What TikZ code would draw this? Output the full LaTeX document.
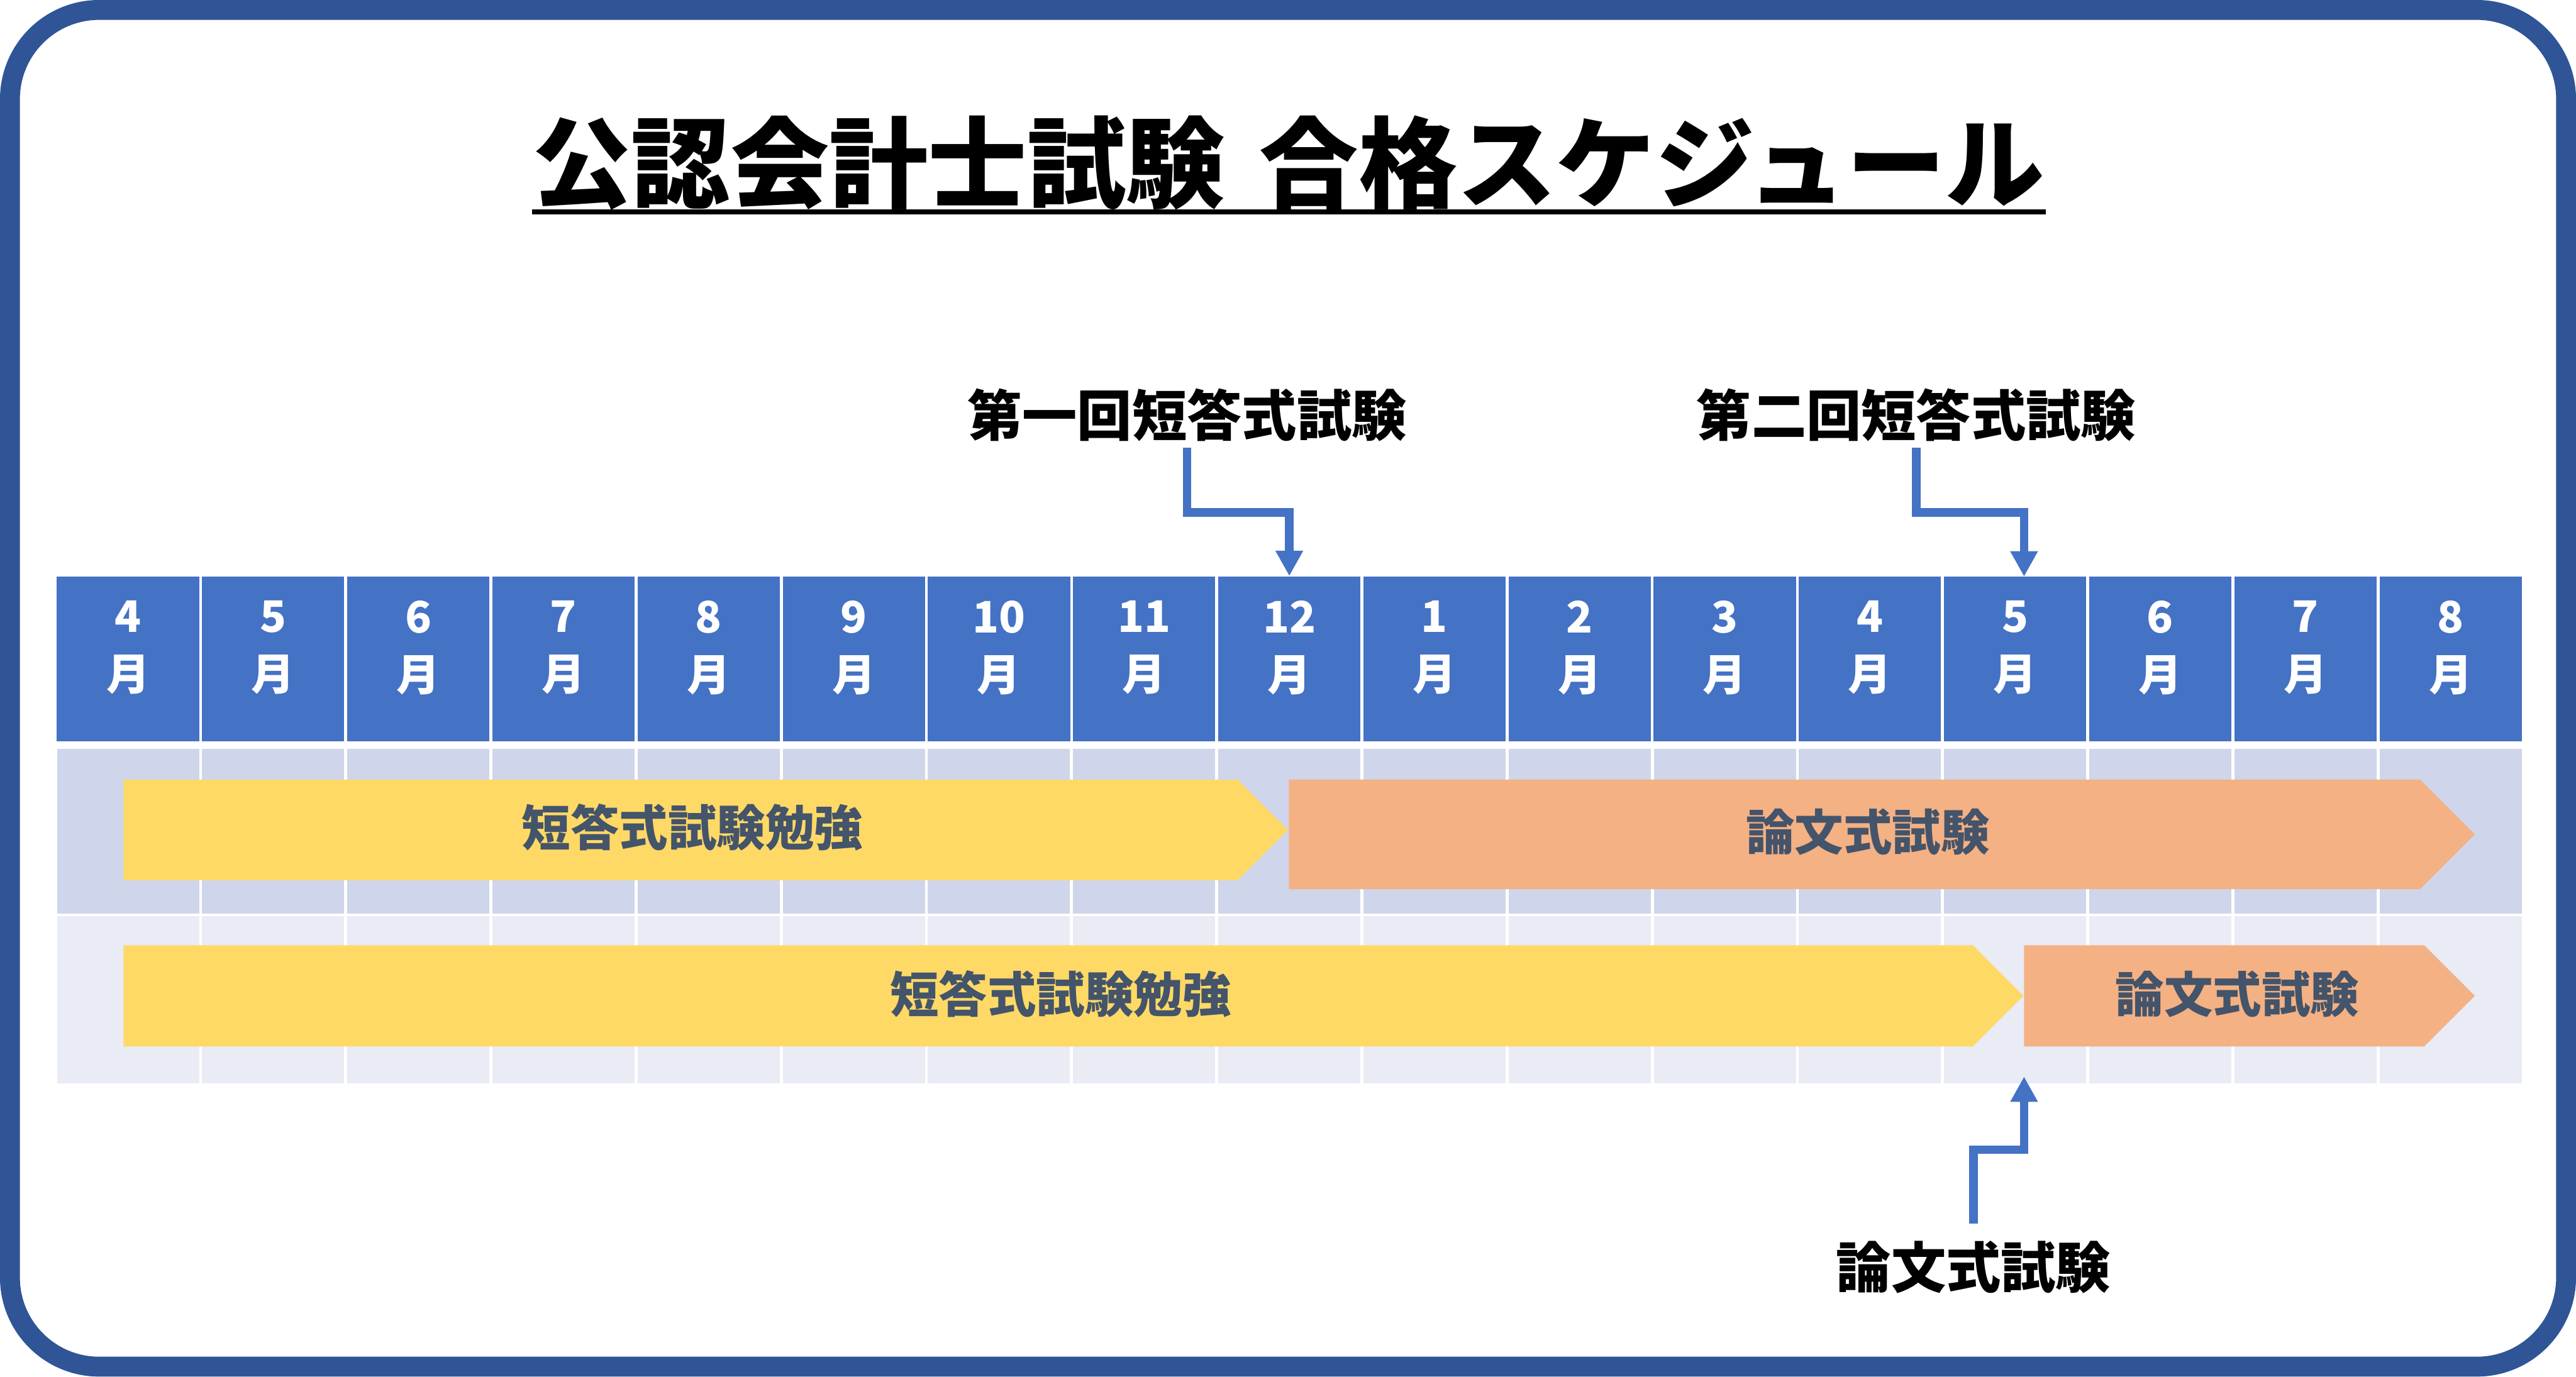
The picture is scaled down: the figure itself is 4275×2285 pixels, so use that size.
\documentclass[tikz,border=0pt]{standalone}
\usepackage{fontspec}
\setmainfont{Noto Sans CJK JP}
\usetikzlibrary{arrows.meta}
\definecolor{frame}{HTML}{2F5597}
\definecolor{hdr}{HTML}{4472C4}
\definecolor{rowA}{HTML}{CFD5EA}
\definecolor{rowB}{HTML}{E9EBF5}
\definecolor{gold}{HTML}{FFD966}
\definecolor{peach}{HTML}{F4B183}
\definecolor{slate}{HTML}{44546A}
\tikzset{
  hcell/.style={fill=hdr, inner sep=0pt, minimum width=2.359cm, minimum height=2.73cm},
  htext/.style={text=white, font=\bfseries\fontsize{20.5pt}{27.3pt}\selectfont, align=center, inner sep=0pt},
  bartext/.style={text=slate, font=\bfseries\fontsize{23pt}{28pt}\selectfont, inner sep=0pt},
  label/.style={text=black, font=\bfseries\fontsize{25.9pt}{30pt}\selectfont, inner sep=0pt},
  conn/.style={draw=hdr, line width=0.14cm, -{Triangle[length=0.42cm, width=0.43cm]}},
}
\begin{document}
\begin{tikzpicture}[x=0.01cm, y=-0.01cm]
\useasboundingbox (0,0) rectangle (4275,2285);
\fill[white] (0,0) rectangle (4275,2285);
% outer frame
\draw[frame, line width=0.33cm, rounded corners=1.48cm] (16.5,16.5) rectangle (4258.5,2268.5);
% title
\node[text=black, font=\bfseries\fontsize{46.7pt}{52pt}\selectfont, inner sep=0pt] (title) at (2138,270) {公認会計士試験\hspace{0.35em}合格スケジュール};
\draw[black, line width=0.08cm] (883,352) -- (3395,352);
% month header and rows
\foreach \m [count=\i from 0] in {4,5,6,7,8,9,10,11,12,1,2,3,4,5,6,7,8} {
  \node[hcell] (c\i) at ({92+(\i+0.5)*240.9}, 1093.5) {};
  \node[htext] (t\i) at ({92+(\i+0.5)*240.9}, 1075) {\m\\月};
  \fill[rowA] ({92+\i*240.9+2.5}, 1243) rectangle ({92+(\i+1)*240.9-2.5}, 1516);
  \fill[rowB] ({92+\i*240.9+2.5}, 1521) rectangle ({92+(\i+1)*240.9-2.5}, 1798);
}
% bars row 1
\fill[gold] (205,1294) -- (2054,1294) -- (2137.5,1377.5) -- (2054,1461) -- (205,1461) -- cycle;
\fill[peach] (2139,1294) -- (4016,1294) -- (4107,1385) -- (4016,1476) -- (2139,1476) -- cycle;
\node[bartext] (b1) at (1149,1373) {短答式試験勉強};
\node[bartext] (b2) at (3100,1381) {論文式試験};
% bars row 2
\fill[gold] (205,1569) -- (3274,1569) -- (3358,1653) -- (3274,1737) -- (205,1737) -- cycle;
\fill[peach] (3359,1569) -- (4023,1569) -- (4107,1653) -- (4023,1737) -- (3359,1737) -- cycle;
\node[bartext] (b3) at (1760,1650) {短答式試験勉強};
\node[bartext] (b4) at (3713,1650) {論文式試験};
% labels
\node[label] (L1) at (1970,689) {第一回短答式試験};
\node[label] (L2) at (3180,689) {第二回短答式試験};
\node[label] (L3) at (3275,2103) {論文式試験};
% connectors
\coordinate (p2) at (3359,957);
\coordinate (p3) at (3359,1787);
\draw[conn] (L1.south) ++(0,10) -- ++(0,107) -| (c8.north);
\draw[conn] (L2.south) ++(0,10) -- ++(0,107) -| (p2);
\draw[conn] (L3.north) ++(0,-28) -- ++(0,-122) -| (p3);
\end{tikzpicture}
\end{document}
